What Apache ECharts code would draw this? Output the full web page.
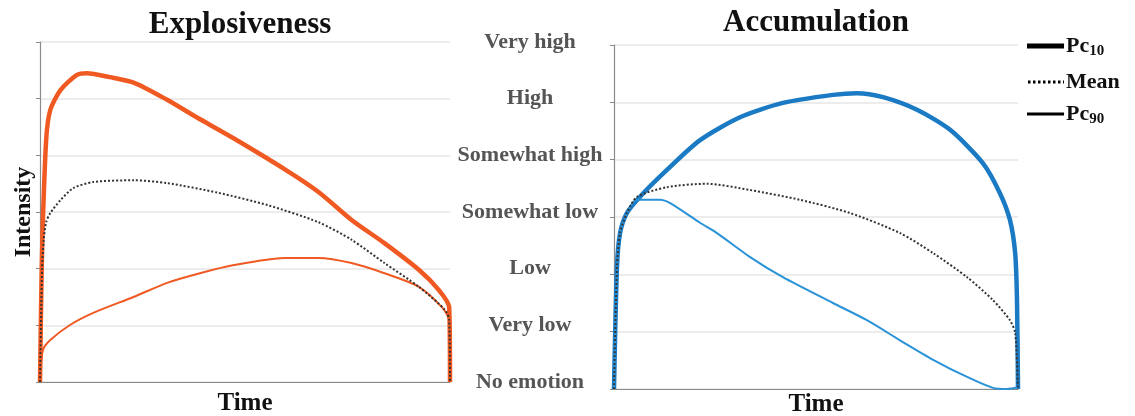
<!DOCTYPE html>
<html><head><meta charset="utf-8">
<script src="https://cdn.jsdelivr.net/npm/echarts@6/dist/echarts.min.js"></script>
<style>html,body{margin:0;padding:0;background:#fff}#c{width:1135px;height:416px}</style>
</head><body><div id="c"></div>
<script>
// Intensity level tick labels (0..6)
const levels = ['No emotion','Very low','Low','Somewhat low','Somewhat high','High','Very high'];

// Explosiveness (time 0..100, intensity 0..6)
const explPc10T = [0,0.3,0.6,1.5,2.5,5,9,11.5,17,23,31,38,47,60,68,76,84,92.4,97.3,99.8,100];
const explPc10V = [0,1.5,2.6,4.27,4.8,5.15,5.42,5.45,5.38,5.28,4.98,4.68,4.31,3.74,3.35,2.86,2.45,1.98,1.62,1.32,0];
const explMeanT = [0,0.5,0.9,1.5,2.5,5,8.1,13,22.8,31,43.4,55.6,67.9,76,84,92.4,98.8,99.8,100];
const explMeanV = [0,1.98,2.5,2.82,2.98,3.21,3.42,3.53,3.56,3.51,3.34,3.12,2.82,2.51,2.10,1.68,1.27,1.09,0];
const explPc90T = [0,0.7,2.5,7.4,13,22.8,31,39,47,59.6,67.9,76,84,92.4,98,99.8,100];
const explPc90V = [0,0.56,0.74,1.01,1.22,1.50,1.75,1.92,2.06,2.19,2.19,2.10,1.92,1.68,1.32,1.09,0];

// Accumulation
const accPc10T = [0,0.74,1.5,3.2,6.4,13.1,21.3,31.2,41.8,54.2,60.1,66.6,75,83.2,91.3,95.5,98,99.3,99.75,100];
const accPc10V = [0,2.13,2.72,3.07,3.35,3.82,4.34,4.74,4.99,5.13,5.16,5.09,4.87,4.52,3.94,3.42,2.95,2.37,1.55,0];
const accMeanT = [0,0.74,1.5,3.2,5.7,13.1,23,33.7,46,58.4,70.8,79,87.4,93.8,98,99.3,100];
const accMeanV = [0,2.13,2.72,3.07,3.35,3.52,3.58,3.47,3.30,3.07,2.72,2.37,1.95,1.55,1.20,0.98,0];
const accPc90T = [0,0.74,1.5,3.2,5.7,11.4,13.9,21.3,25.5,33.7,41.8,54.2,62.6,70.8,79,87.4,93.8,97.3,100];
const accPc90V = [0,2.13,2.72,3.07,3.30,3.30,3.24,2.90,2.72,2.30,1.95,1.50,1.20,0.85,0.51,0.21,0.02,0,0.03];

const zip = (t, v) => t.map((x, i) => [x, v[i]]);
const serif = 'Liberation Serif';
const ORANGE = '#F05A22', BLUE = '#1A7AC4', BLUE2 = '#2A93D8', DOT = '#333';

const chart = echarts.init(document.getElementById('c'));
const xAx = (g, gap) => ({
  type: 'value', gridIndex: g, min: 0, max: 100,
  axisLabel: {show: false}, axisTick: {show: false}, splitLine: {show: false},
  axisLine: {lineStyle: {color: '#8a8a8a', width: 1.2}},
  name: 'Time', nameLocation: 'middle', nameGap: gap,
  nameTextStyle: {fontFamily: serif, fontWeight: 'bold', fontSize: 25, color: '#111'}
});
const yAx = (g) => ({
  type: 'value', gridIndex: g, min: 0, max: 6, interval: 1,
  axisLabel: {show: false},
  axisTick: {show: true, length: 4, inside: false, lineStyle: {color: '#8a8a8a'}},
  axisLine: {show: true, lineStyle: {color: '#8a8a8a', width: 1.2}},
  splitLine: {show: true, lineStyle: {color: '#e6e6e6', width: 1.5}}
});
const line = (name, data, xi, color, width, dotted) => ({
  type: 'line', name, xAxisIndex: xi, yAxisIndex: xi === 0 ? 0 : 2,
  data, symbol: 'none', smooth: 0.25, silent: true,
  lineStyle: {color, width, type: dotted ? [2, 2] : 'solid', cap: 'butt', join: 'round'},
  z: dotted ? 4 : 3
});

const y0 = yAx(0);
y0.name = 'Intensity'; y0.nameLocation = 'middle'; y0.nameGap = 4; y0.nameRotate = 90;
y0.nameTextStyle = {fontFamily: serif, fontWeight: 'bold', fontSize: 24, color: '#111'};

chart.setOption({
  animation: false,
  title: [
    {text: 'Explosiveness', left: 235, top: 4, textAlign: 'center',
     textStyle: {fontFamily: serif, fontWeight: 'bold', fontSize: 31, color: '#111'}},
    {text: 'Accumulation', left: 811, top: 2, textAlign: 'center',
     textStyle: {fontFamily: serif, fontWeight: 'bold', fontSize: 31, color: '#111'}}
  ],
  grid: [
    {left: 40, width: 410, top: 42, height: 340, outerBoundsMode: 'none', containLabel: false},
    {left: 614, width: 404, top: 45, height: 344, outerBoundsMode: 'none', containLabel: false}
  ],
  xAxis: [xAx(0, 9), xAx(1, 3)],
  yAxis: [
    y0,
    {type: 'value', gridIndex: 0, min: 0, max: 6, interval: 1, position: 'right',
     axisLine: {show: false}, axisTick: {show: false}, splitLine: {show: false},
     axisLabel: {show: true, margin: 80, align: 'center', formatter: v => levels[v],
       fontFamily: serif, fontWeight: 'bold', fontSize: 22, color: '#555'}},
    yAx(1)
  ],
  series: [
    line('Pc10', zip(explPc10T, explPc10V), 0, ORANGE, 4.5, false),
    line('Pc90', zip(explPc90T, explPc90V), 0, ORANGE, 2, false),
    line('Mean', zip(explMeanT, explMeanV), 0, DOT, 2, true),
    line('Pc10', zip(accPc10T, accPc10V), 1, BLUE, 4.5, false),
    line('Pc90', zip(accPc90T, accPc90V), 1, BLUE2, 2, false),
    line('Mean', zip(accMeanT, accMeanV), 1, DOT, 2, true)
  ],
  graphic: [
    {type: 'line', shape: {x1: 1027, y1: 46, x2: 1064, y2: 46}, style: {stroke: '#000', lineWidth: 5}},
    {type: 'line', shape: {x1: 1028, y1: 82, x2: 1064, y2: 82}, style: {stroke: '#000', lineWidth: 3, lineDash: [2.5, 2.5]}},
    {type: 'line', shape: {x1: 1027, y1: 114, x2: 1064, y2: 114}, style: {stroke: '#000', lineWidth: 3}},
    {type: 'text', x: 1066, y: 46, style: {text: '{b|Pc}{s|10}', verticalAlign: 'middle',
      rich: {b: {fontFamily: serif, fontWeight: 'bold', fontSize: 22, fill: '#111', verticalAlign: 'middle'},
             s: {fontFamily: serif, fontWeight: 'bold', fontSize: 15, fill: '#111', padding: [10, 0, 0, 0]}}}},
    {type: 'text', x: 1066, y: 82, style: {text: 'Mean', verticalAlign: 'middle',
      fontFamily: serif, fontWeight: 'bold', fontSize: 22, fill: '#111'}},
    {type: 'text', x: 1066, y: 114, style: {text: '{b|Pc}{s|90}', verticalAlign: 'middle',
      rich: {b: {fontFamily: serif, fontWeight: 'bold', fontSize: 22, fill: '#111'},
             s: {fontFamily: serif, fontWeight: 'bold', fontSize: 15, fill: '#111', padding: [10, 0, 0, 0]}}}}
  ]
});
</script></body></html>
